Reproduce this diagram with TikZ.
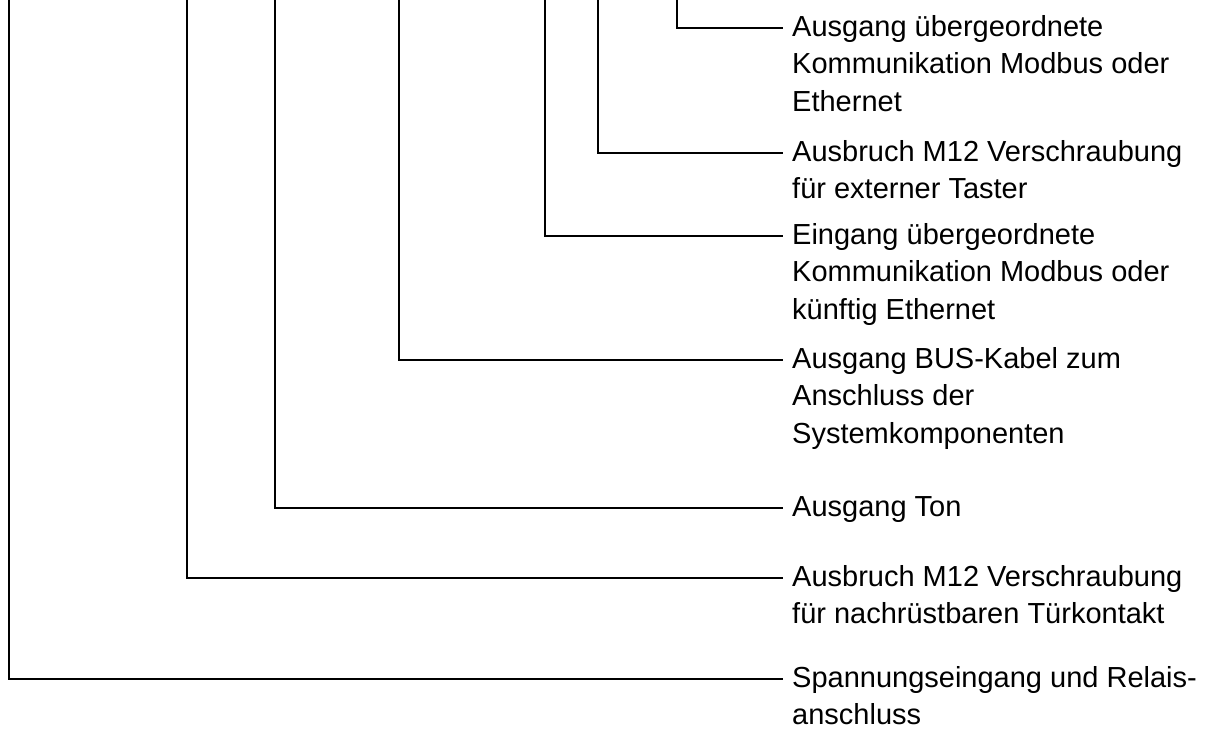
\documentclass[tikz,border=0pt]{standalone}
\usepackage{fontspec}
\setmainfont{Liberation Sans}
\newcommand{\mylines}[1]{\vtop{\fontsize{29}{37.5}\selectfont\baselineskip=37.5pt #1}}
\newcommand{\myln}[1]{\hbox{#1}}
\begin{document}
\begin{tikzpicture}[x=1pt,y=-1pt,
  lbl/.style={anchor=base west,inner sep=0pt},
  wire/.style={line width=2pt,line join=miter,black}]
\useasboundingbox (0,0) rectangle (1216,729);
% top ends of the leads
\coordinate (s1) at (677,0);
\coordinate (s2) at (598,0);
\coordinate (s3) at (545,0);
\coordinate (s4) at (399,0);
\coordinate (s5) at (275,0);
\coordinate (s6) at (187,0);
\coordinate (s7) at (9,0);
% ends at the labels
\coordinate (e1) at (783,28);
\coordinate (e2) at (783,153);
\coordinate (e3) at (783,236);
\coordinate (e4) at (783,360);
\coordinate (e5) at (783,508);
\coordinate (e6) at (783,578);
\coordinate (e7) at (783,679);
% labels
\node[lbl] (t1) at (792,36) {\mylines{\myln{Ausgang übergeordnete}\myln{Kommunikation Modbus oder}\myln{Ethernet}}};
\node[lbl] (t2) at (792,161) {\mylines{\myln{Ausbruch M12 Verschraubung}\myln{für externer Taster}}};
\node[lbl] (t3) at (792,244) {\mylines{\myln{Eingang übergeordnete}\myln{Kommunikation Modbus oder}\myln{künftig Ethernet}}};
\node[lbl] (t4) at (792,368) {\mylines{\myln{Ausgang BUS-Kabel zum}\myln{Anschluss der}\myln{Systemkomponenten}}};
\node[lbl] (t5) at (792,516) {\mylines{\myln{Ausgang Ton}}};
\node[lbl] (t6) at (792,586) {\mylines{\myln{Ausbruch M12 Verschraubung}\myln{für nachrüstbaren Türkontakt}}};
\node[lbl] (t7) at (792,687) {\mylines{\myln{Spannungseingang und Relais-}\myln{anschluss}}};
% leads
\foreach \i in {1,...,7}{\draw[wire] (s\i) |- (e\i);}
\end{tikzpicture}
\end{document}
